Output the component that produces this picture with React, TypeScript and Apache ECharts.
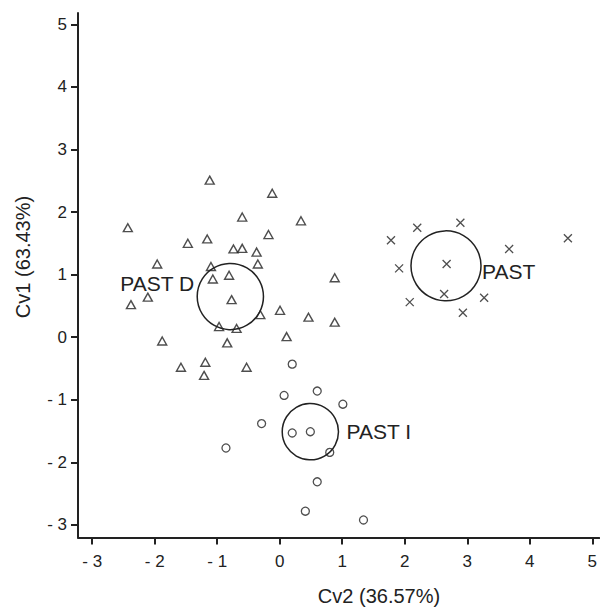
import { useEffect, useRef } from "react";
import * as echarts from "echarts";

// PAST D (triangles): [Cv2, Cv1]
const pastDPoints: number[][] = [
  [-1.12, 2.51], [-0.12, 2.3], [-0.6, 1.92], [0.34, 1.86], [-2.43, 1.75],
  [-0.18, 1.64], [-1.47, 1.5], [-1.16, 1.57], [-0.74, 1.41], [-0.6, 1.42],
  [-0.37, 1.36], [-0.35, 1.17], [-1.96, 1.17], [-1.1, 1.13], [-0.81, 0.99],
  [-1.07, 0.93], [0.88, 0.95], [-2.11, 0.64], [-2.38, 0.52], [-0.77, 0.6],
  [-0.31, 0.36], [0.005, 0.43], [0.46, 0.32], [0.88, 0.24], [-0.97, 0.17],
  [-0.69, 0.14], [0.11, 0.01], [-1.88, -0.06], [-0.84, -0.09], [-1.58, -0.48],
  [-1.19, -0.4], [-1.21, -0.61], [-0.53, -0.48],
];

// PAST (crosses)
const pastPoints: number[][] = [
  [1.78, 1.55], [2.2, 1.75], [2.89, 1.83], [4.61, 1.58], [3.67, 1.41],
  [1.91, 1.1], [2.67, 1.17], [2.63, 0.69], [2.08, 0.56], [3.27, 0.63],
  [2.93, 0.39],
];

// PAST I (circles)
const pastIPoints: number[][] = [
  [0.2, -0.43], [0.07, -0.93], [0.6, -0.86], [1.01, -1.07], [-0.29, -1.38],
  [0.2, -1.53], [0.49, -1.51], [-0.86, -1.77], [0.8, -1.84], [0.6, -2.31],
  [0.41, -2.78], [1.34, -2.92],
];

// group centroids and ring radii (data units)
const groupNames = ["PAST D", "PAST", "PAST I"];
const groupCentroids: number[][] = [
  [-0.79, 0.65],
  [2.66, 1.14],
  [0.49, -1.51],
];
const groupRadii = [0.53, 0.56, 0.45];

const xTicks = [-3, -2, -1, 0, 1, 2, 3, 4, 5];
const yTicks = [-3, -2, -1, 0, 1, 2, 3, 4, 5];

const xName = "Cv2 (36.57%)";
const yName = "Cv1 (63.43%)";

// label placement styles for the rings (pixel offsets)
const ringLabelStyle = [
  { side: "left", gap: 3, dy: -13 },
  { side: "right", gap: 1, dy: 6 },
  { side: "right", gap: 8, dy: 0 },
];

const INK = "#222";
const FONT = '"Liberation Sans", Arial, Helvetica, sans-serif';

const fmt = (v: number) => (v < 0 ? "- " + Math.abs(v) : String(v));

export default function App() {
  const ref = useRef<HTMLDivElement>(null);

  useEffect(() => {
    if (!ref.current) return;
    const chart = echarts.init(ref.current, undefined, { renderer: "svg" });

    const ringData = groupCentroids.map((c, i) => [c[0], c[1], groupRadii[i]]);

    const option: any = {
      animation: false,
      backgroundColor: "#fff",
      textStyle: { fontFamily: FONT },
      grid: { left: 78, right: 0, top: 13, bottom: 69.5, containLabel: false },
      xAxis: {
        type: "value",
        min: -3.227,
        max: 5.112,
        splitLine: { show: false },
        axisLine: { onZero: false, lineStyle: { color: INK, width: 2 } },
        axisTick: {
          show: true,
          length: 7,
          lineStyle: { color: INK, width: 2 },
          customValues: xTicks,
        },
        axisLabel: {
          color: INK,
          fontSize: 17,
          fontFamily: FONT,
          margin: 15,
          formatter: fmt,
          customValues: xTicks,
        },
      },
      yAxis: {
        type: "value",
        min: -3.2,
        max: 5.18,
        splitLine: { show: false },
        axisLine: { onZero: false, lineStyle: { color: INK, width: 2 } },
        axisTick: {
          show: true,
          length: 7,
          lineStyle: { color: INK, width: 2 },
          customValues: yTicks,
        },
        axisLabel: {
          color: INK,
          fontSize: 17,
          fontFamily: FONT,
          margin: 11,
          formatter: fmt,
          customValues: yTicks,
        },
      },
      graphic: [
        {
          type: "text",
          x: 379,
          y: 596,
          style: {
            text: xName,
            fill: INK,
            font: `20px ${FONT}`,
            align: "center",
            verticalAlign: "middle",
          },
        },
        {
          type: "text",
          x: 23,
          y: 257,
          rotation: Math.PI / 2,
          style: {
            text: yName,
            fill: INK,
            font: `20px ${FONT}`,
            align: "center",
            verticalAlign: "middle",
          },
        },
      ],
      series: [
        {
          type: "scatter",
          name: "PAST D",
          data: pastDPoints,
          symbol: "triangle",
          symbolSize: [9, 8],
          itemStyle: { color: "#fff", borderColor: INK, borderWidth: 1.4 },
        },
        {
          type: "scatter",
          name: "PAST",
          data: pastPoints,
          symbol: "path://M0,0L10,10M10,0L0,10",
          symbolSize: 8,
          itemStyle: { color: "none", borderColor: INK, borderWidth: 1.3 },
        },
        {
          type: "scatter",
          name: "PAST I",
          data: pastIPoints,
          symbol: "circle",
          symbolSize: 8,
          itemStyle: { color: "#fff", borderColor: INK, borderWidth: 1.3 },
        },
        {
          type: "custom",
          name: "rings",
          data: ringData,
          encode: { x: 0, y: 1 },
          z: 3,
          renderItem: (params: any, api: any) => {
            const c = api.coord([api.value(0), api.value(1)]);
            const r = api.size([api.value(2), 0])[0];
            const st = ringLabelStyle[params.dataIndex];
            const left = st.side === "left";
            return {
              type: "group",
              children: [
                {
                  type: "circle",
                  shape: { cx: c[0], cy: c[1], r },
                  style: { fill: "none", stroke: INK, lineWidth: 1.5 },
                },
                {
                  type: "text",
                  x: left ? c[0] - r - st.gap : c[0] + r + st.gap,
                  y: c[1] + st.dy,
                  style: {
                    text: groupNames[params.dataIndex],
                    fill: INK,
                    font: `21px ${FONT}`,
                    align: left ? "right" : "left",
                    verticalAlign: "middle",
                  },
                },
              ],
            };
          },
        },
      ],
    };

    chart.setOption(option);
    return () => chart.dispose();
  }, []);

  return (
    <div
      ref={ref}
      style={{ position: "fixed", left: 0, top: 0, width: 600, height: 607 }}
    />
  );
}
